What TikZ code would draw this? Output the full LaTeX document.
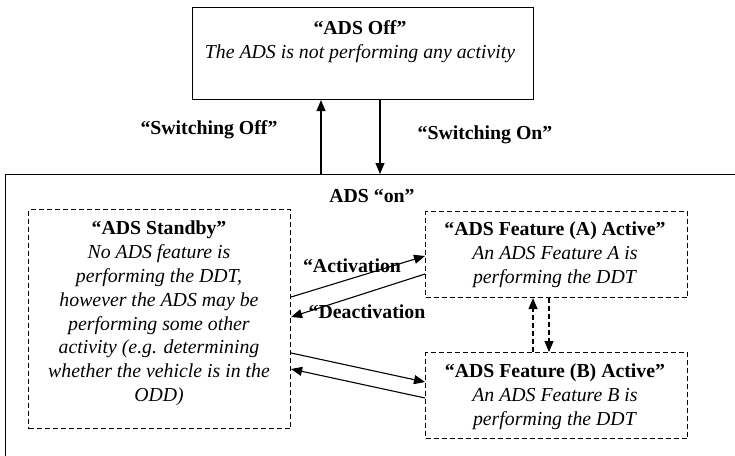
\documentclass[tikz,border=0pt]{standalone}
\usepackage{fontspec}
\setmainfont{Liberation Serif}[
  BoldFont={Liberation Serif Bold},
  ItalicFont={Liberation Serif Italic},
  BoldItalicFont={Liberation Serif Bold Italic}]
\usetikzlibrary{arrows.meta}
\begin{document}
\begin{tikzpicture}[x=1pt,y=-1pt,
  txt/.style={font=\fontsize{19.8pt}{23.8pt}\selectfont, align=center, inner sep=0pt},
  solidbox/.style={draw, line width=1.1pt, anchor=north west, inner sep=0pt},
  dashbox/.style={draw, line width=1.1pt, dash pattern=on 5pt off 3pt, anchor=north west, inner sep=0pt},
  arr/.style={line width=1.1pt, -{Triangle[length=11pt,width=9pt]}},
  darr/.style={arr, dash pattern=on 5pt off 3pt}]
\useasboundingbox (0,0) rectangle (735,455);
\clip (0,0) rectangle (735,455);

% outer state "ADS on" (runs past the right and bottom edges)
\node[solidbox, minimum width=760pt, minimum height=300pt] (on) at (5,174) {};
% "ADS Off" state
\node[solidbox, fill=white, minimum width=341pt, minimum height=92pt] (off) at (192,7) {};
% sub-states
\node[dashbox, minimum width=262pt, minimum height=219pt] (stby) at (28,209) {};
\node[dashbox, minimum width=262pt, minimum height=86pt] (fa) at (425,211) {};
\node[dashbox, minimum width=262pt, minimum height=86pt] (fb) at (425,352) {};

% texts
\node[txt] (offtxt) at (360,42) {\textbf{“ADS Off”}\\\textit{The ADS is not performing any activity}};
\node[txt] (ontxt) at (372,196) {\textbf{ADS “on”}};
\node[txt] (stbytxt) at (159,313.5) {\textbf{“ADS Standby”}\\\textit{No ADS feature is}\\\textit{performing the DDT,}\\\textit{however the ADS may be}\\\textit{performing some other}\\\textit{activity (e.g. determining}\\\textit{whether the vehicle is in the}\\\textit{ODD)}};
\node[txt] (fatxt) at (555,255) {\textbf{“ADS Feature (A) Active”}\\\textit{An ADS Feature A is}\\\textit{performing the DDT}};
\node[txt] (fbtxt) at (555,397) {\textbf{“ADS Feature (B) Active”}\\\textit{An ADS Feature B is}\\\textit{performing the DDT}};

% switching between off and on
\draw[arr] ([xshift=316pt]on.north west) -- ([xshift=129pt]off.south west);
\draw[arr] ([xshift=188pt]off.south west) -- ([xshift=375pt]on.north west);
\node[txt] (swoff) at (209,130) {\textbf{“Switching Off”}};
\node[txt] (swon) at (485,135) {\textbf{“Switching On”}};

% standby <-> feature A
\draw[arr] ([yshift=-88pt]stby.north east) -- ([yshift=-45pt]fa.north west);
\draw[arr] ([yshift=-63pt]fa.north west) -- ([yshift=-108pt]stby.north east);
\node[txt] (act) at (352,266) {\textbf{“Activation}};
\node[txt] (deact) at (367,312) {\textbf{“Deactivation}};

% standby <-> feature B
\draw[arr] ([yshift=-144pt]stby.north east) -- ([yshift=-30pt]fb.north west);
\draw[arr] ([yshift=-46pt]fb.north west) -- ([yshift=-160pt]stby.north east);

% feature A <-> feature B
\draw[darr] ([xshift=108pt]fb.north west) -- ([xshift=108pt]fa.south west);
\draw[darr] ([xshift=124pt]fa.south west) -- ([xshift=124pt]fb.north west);
\end{tikzpicture}
\end{document}
